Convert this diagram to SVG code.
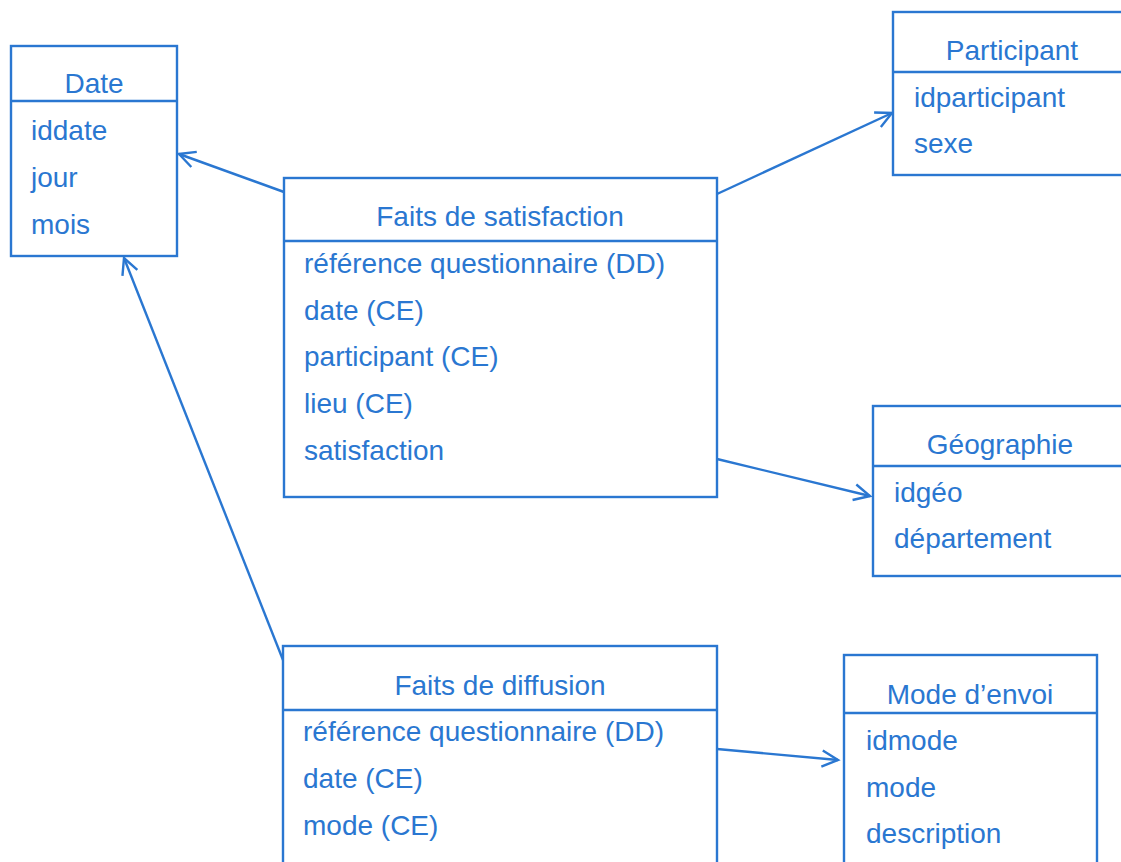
<svg xmlns="http://www.w3.org/2000/svg" width="1121" height="862" viewBox="0 0 1121 862">
<style>
.box{fill:#fff;stroke:#2a77d1;stroke-width:2.4}
.sep{stroke:#2a77d1;stroke-width:2.4}
.t{font-family:"Liberation Sans",Arial,sans-serif;font-size:28px;fill:#2a77d1}
.c{text-anchor:middle}
.edge{fill:none;stroke:#2a77d1;stroke-width:2.4}
</style>
<defs>
<marker id="arr" markerUnits="userSpaceOnUse" markerWidth="40" markerHeight="40" viewBox="-20 -20 40 40" refX="0" refY="0" orient="auto" overflow="visible">
<path d="M-16,-8 L0,0 L-16,8" fill="none" stroke="#2a77d1" stroke-width="2.4"/>
</marker>
</defs>
<rect width="1121" height="862" fill="#fff"/>
<g id="connectors">
<path class="edge" d="M284,192 L179,154" marker-end="url(#arr)"/>
<path class="edge" d="M283,660 L124,258" marker-end="url(#arr)"/>
<path class="edge" d="M717,194 L892,113" marker-end="url(#arr)"/>
<path class="edge" d="M717,459 L870,496" marker-end="url(#arr)"/>
<path class="edge" d="M717,749 L838,760" marker-end="url(#arr)"/>
</g>
<g id="date">
<rect class="box" x="11" y="46" width="166" height="210"/>
<line class="sep" x1="11" y1="101" x2="177" y2="101"/>
<text class="t c" x="94" y="93">Date</text>
<text class="t" x="31" y="140">iddate</text>
<text class="t" x="31" y="187">jour</text>
<text class="t" x="31" y="234">mois</text>
</g>
<g id="faits-satisfaction">
<rect class="box" x="284" y="178" width="433" height="319"/>
<line class="sep" x1="284" y1="241" x2="717" y2="241"/>
<text class="t c" x="500" y="226">Faits de satisfaction</text>
<text class="t" x="304" y="273">référence questionnaire (DD)</text>
<text class="t" x="304" y="320">date (CE)</text>
<text class="t" x="304" y="366">participant (CE)</text>
<text class="t" x="304" y="413">lieu (CE)</text>
<text class="t" x="304" y="460">satisfaction</text>
</g>
<g id="participant">
<rect class="box" x="893" y="12" width="240" height="163"/>
<line class="sep" x1="893" y1="72" x2="1133" y2="72"/>
<text class="t c" x="1012" y="60">Participant</text>
<text class="t" x="914" y="107">idparticipant</text>
<text class="t" x="914" y="153">sexe</text>
</g>
<g id="geographie">
<rect class="box" x="873" y="406" width="256" height="170"/>
<line class="sep" x1="873" y1="466" x2="1129" y2="466"/>
<text class="t c" x="1000" y="454">Géographie</text>
<text class="t" x="894" y="502">idgéo</text>
<text class="t" x="894" y="548">département</text>
</g>
<g id="faits-diffusion">
<rect class="box" x="283" y="646" width="434" height="230"/>
<line class="sep" x1="283" y1="710" x2="717" y2="710"/>
<text class="t c" x="500" y="695">Faits de diffusion</text>
<text class="t" x="303" y="741">référence questionnaire (DD)</text>
<text class="t" x="303" y="788">date (CE)</text>
<text class="t" x="303" y="835">mode (CE)</text>
</g>
<g id="mode-envoi">
<rect class="box" x="844" y="655" width="253" height="220"/>
<line class="sep" x1="844" y1="713" x2="1097" y2="713"/>
<text class="t c" x="970" y="704">Mode d’envoi</text>
<text class="t" x="866" y="750">idmode</text>
<text class="t" x="866" y="797">mode</text>
<text class="t" x="866" y="843">description</text>
</g>
</svg>
